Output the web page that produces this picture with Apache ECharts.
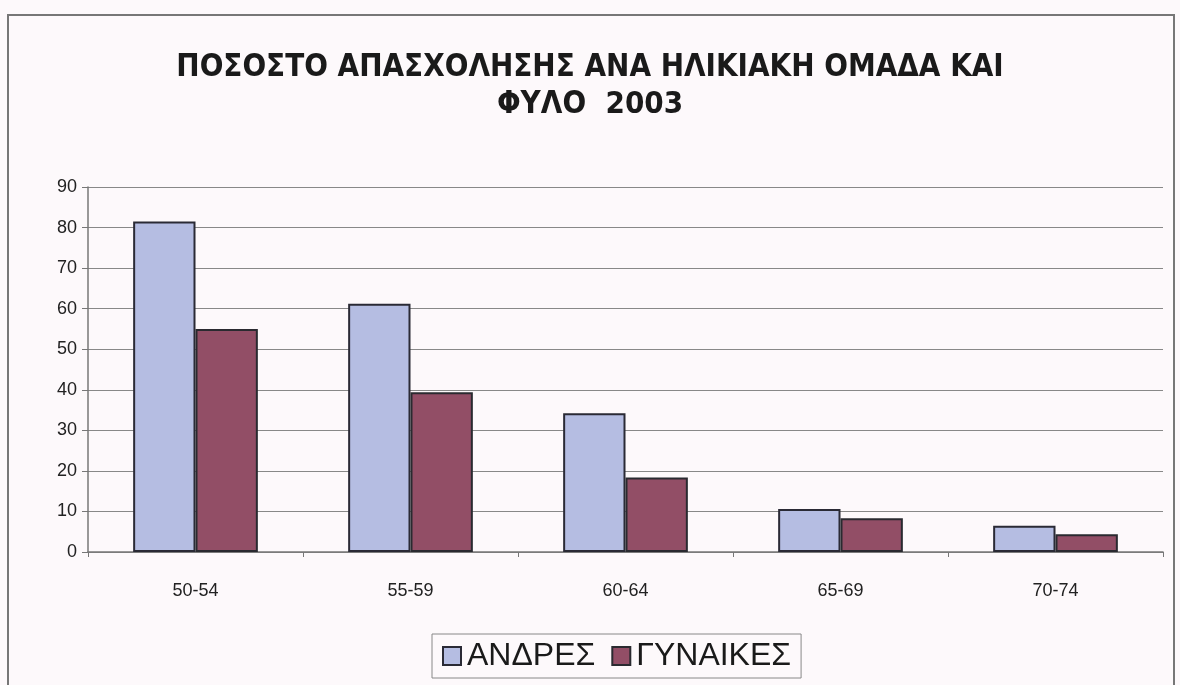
<!DOCTYPE html>
<html>
<head>
<meta charset="utf-8">
<script src="https://cdn.jsdelivr.net/npm/echarts@6/dist/echarts.min.js"></script>
<style>
  html, body { margin: 0; padding: 0; background: #fdf9fb; }
  #chart { width: 1180px; height: 685px; }
</style>
</head>
<body>
<div id="chart"></div>
<script>
// Employment rate by age group and sex, 2003
const ageGroups = ['50-54', '55-59', '60-64', '65-69', '70-74'];
const men = [81.5, 61.2, 34.2, 10.6, 6.5];
const women = [55.0, 39.4, 18.4, 8.3, 4.4];
const seriesNames = ['ΑΝΔΡΕΣ', 'ΓΥΝΑΙΚΕΣ'];
const titleLines = ['ΠΟΣΟΣΤΟ ΑΠΑΣΧΟΛΗΣΗΣ ΑΝΑ ΗΛΙΚΙΑΚΗ ΟΜΑΔΑ ΚΑΙ', 'ΦΥΛΟ  2003'];

const chart = echarts.init(document.getElementById('chart'));
const font = 'Liberation Sans, Arial, sans-serif';

chart.setOption({
  backgroundColor: '#fdf9fb',
  animation: false,
  title: {
    text: titleLines.join('\n'),
    left: 'center',
    top: 44,
    textStyle: {
      fontFamily: 'DejaVu Sans Condensed, Liberation Sans Narrow, Liberation Sans, sans-serif',
      fontWeight: 'bold',
      fontSize: 31,
      lineHeight: 37,
      color: '#1a1a1a'
    }
  },
  graphic: [{
    type: 'rect',
    shape: { x: 8, y: 15, width: 1166, height: 690 },
    style: { fill: 'none', stroke: '#777', lineWidth: 2 },
    silent: true,
    z: -1
  }],
  legend: {
    data: seriesNames,
    bottom: 7,
    left: 432,
    itemWidth: 18,
    itemHeight: 18,
    itemGap: 16,
    padding: [6, 10],
    borderColor: '#888',
    borderWidth: 1,
    icon: 'rect',
    textStyle: { fontFamily: font, fontSize: 32, color: '#1a1a1a', padding: [0, 0, 0, 1] }
  },
  grid: { left: 88, right: 17, top: 187, bottom: 133 },
  xAxis: {
    type: 'category',
    data: ageGroups,
    axisLine: { lineStyle: { color: '#777', width: 1.5 } },
    axisTick: { show: true, length: 5, lineStyle: { color: '#777' } },
    axisLabel: { fontFamily: font, fontSize: 18, color: '#222', margin: 30 }
  },
  yAxis: {
    type: 'value',
    min: 0,
    max: 90,
    interval: 10,
    axisLine: { show: true, lineStyle: { color: '#777', width: 1.5 } },
    axisTick: { show: true, length: 6, lineStyle: { color: '#777' } },
    axisLabel: { fontFamily: font, fontSize: 18, color: '#222', margin: 11 },
    splitLine: { lineStyle: { color: '#888', width: 1.2 } }
  },
  series: [
    {
      name: seriesNames[0],
      type: 'bar',
      data: men,
      barWidth: '29%',
      barGap: '0%',
      itemStyle: { color: '#b5bde2', borderColor: '#2a2a35', borderWidth: 2 }
    },
    {
      name: seriesNames[1],
      type: 'bar',
      data: women,
      barWidth: '29%',
      barGap: '0%',
      itemStyle: { color: '#924e66', borderColor: '#2a2a30', borderWidth: 2 }
    }
  ]
});
</script>
</body>
</html>
